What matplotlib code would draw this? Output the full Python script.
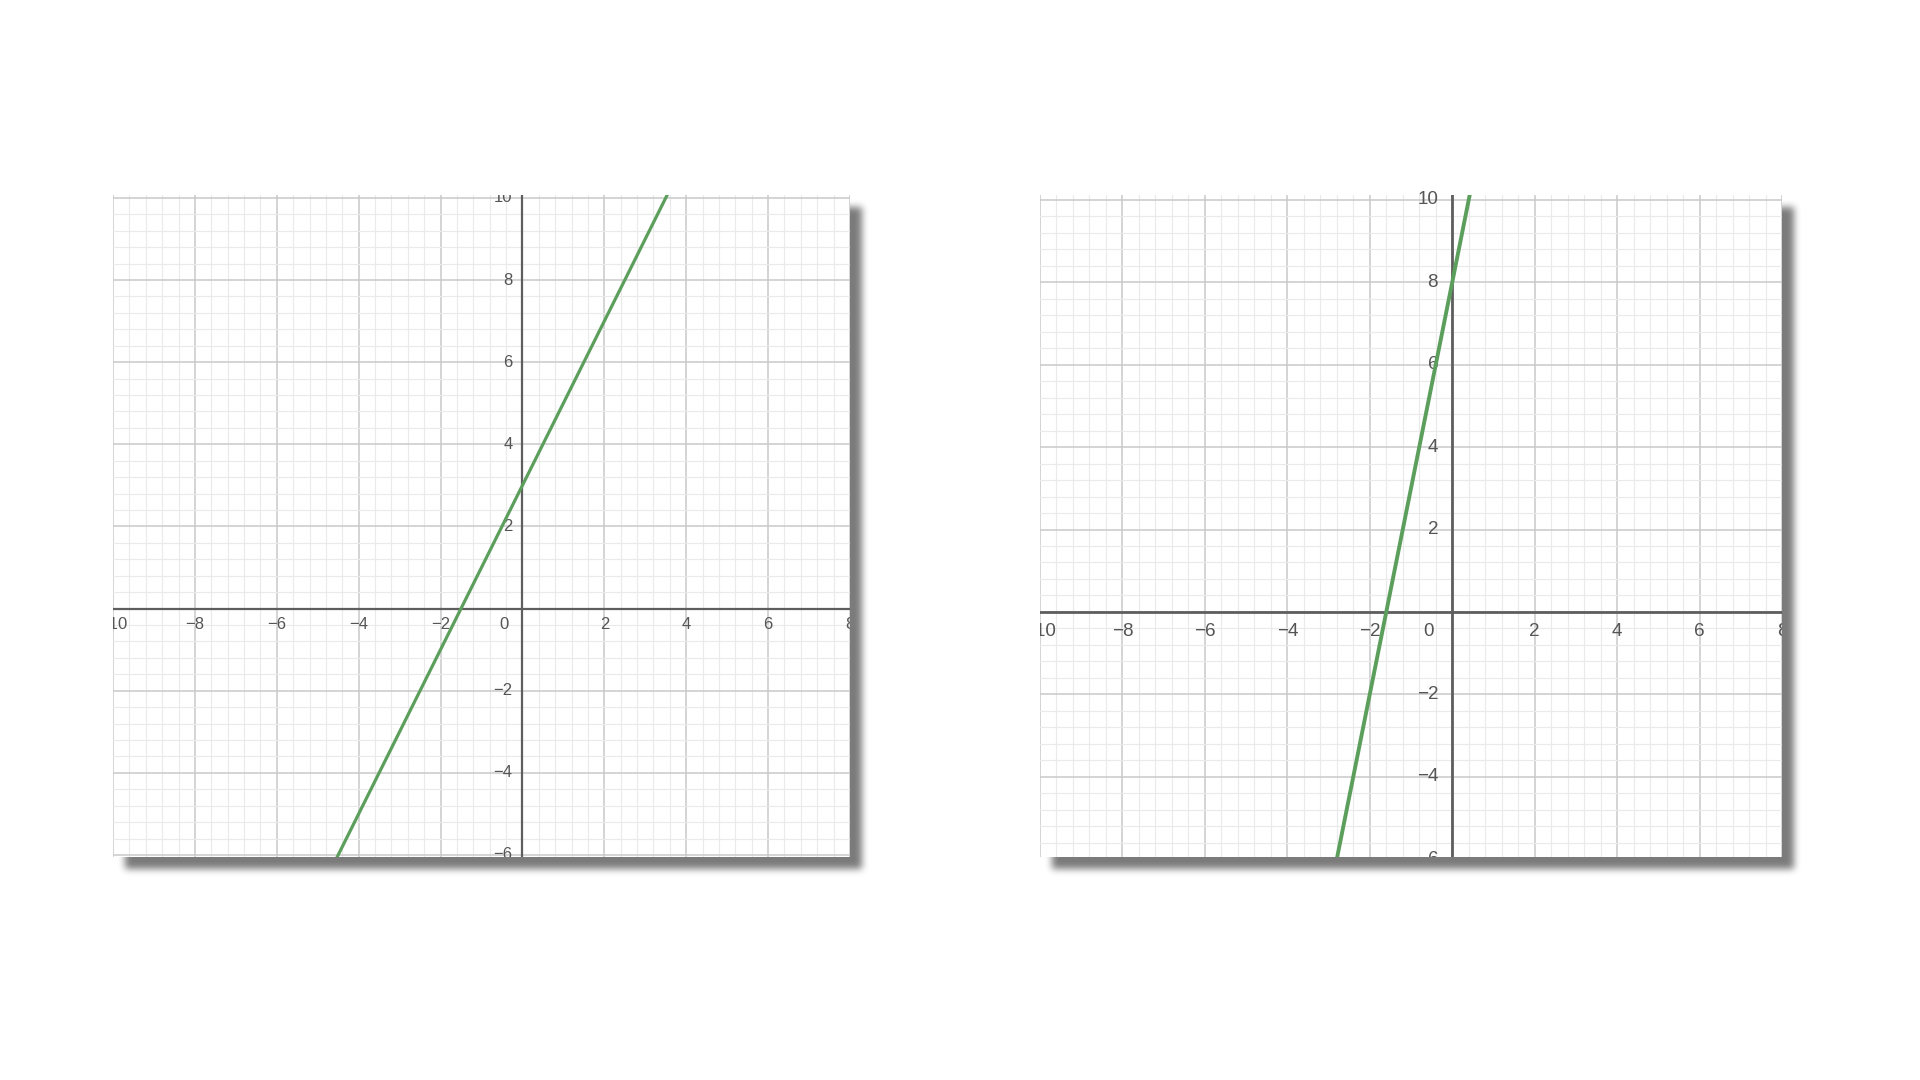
import numpy as np
import matplotlib
matplotlib.use("Agg")
import matplotlib.pyplot as plt
from matplotlib.ticker import MultipleLocator
from matplotlib.transforms import offset_copy

# two straight lines, y = slope * x + intercept
slopes = [2, 5]
intercepts = [3, 8]

x_ticks = [-10, -8, -6, -4, -2, 2, 4, 6, 8]
y_ticks = [-6, -4, -2, 2, 4, 6, 8, 10]

W, H = 1920, 1080
# plot boxes in pixels (left, top, right, bottom)
boxes = [(113, 195, 850, 857), (1040, 195, 1782, 857)]
ylims = [(-6.05, 10.07), (-5.95, 10.12)]
font_sizes = [12, 13.6]
line_widths = [2.3, 2.8]
axis_widths = [1.6, 2.0]
label_gap = [(10, 16), (14, 20)]
clip_top_label = [True, False]

plt.rcParams['font.family'] = ['Liberation Sans', 'DejaVu Sans']

fig = plt.figure(figsize=(19.2, 10.8), dpi=100)
fig.patch.set_facecolor('white')


def box_blur(a, r):
    # separable box blur using cumulative sums
    for axis in (0, 1):
        pad = [(0, 0), (0, 0)]
        pad[axis] = (r + 1, r)
        c = np.cumsum(np.pad(a, pad, mode='edge'), axis=axis)
        if axis == 0:
            a = (c[2 * r + 1:, :] - c[:-2 * r - 1, :]) / (2 * r + 1)
        else:
            a = (c[:, 2 * r + 1:] - c[:, :-2 * r - 1]) / (2 * r + 1)
    return a


# drop shadow behind both plots
mask = np.zeros((H, W))
off = 12
for (l, t, r, b) in boxes:
    mask[t + off:b + off, l + off:r + off] = 1.0
for _ in range(3):
    mask = box_blur(mask, 3)
shadow = np.zeros((H, W, 4))
shadow[..., 3] = mask * 0.52

bg = fig.add_axes([0, 0, 1, 1], zorder=0)
bg.imshow(shadow, extent=[0, W, H, 0], aspect='auto', interpolation='nearest')
bg.set_xlim(0, W)
bg.set_ylim(H, 0)
bg.axis('off')

for i, (l, t, r, b) in enumerate(boxes):
    ax = fig.add_axes([l / W, 1 - b / H, (r - l) / W, (b - t) / H], zorder=1)
    ax.set_facecolor('white')
    ax.set_xlim(-10, 8)
    ax.set_ylim(*ylims[i])
    for s in ax.spines.values():
        s.set_visible(False)
    ax.xaxis.set_major_locator(MultipleLocator(2))
    ax.yaxis.set_major_locator(MultipleLocator(2))
    ax.xaxis.set_minor_locator(MultipleLocator(0.4))
    ax.yaxis.set_minor_locator(MultipleLocator(0.4))
    ax.grid(which='minor', color='#eaeaea', lw=0.8, zorder=0)
    ax.grid(which='major', color='#c9c9c9', lw=1.1, zorder=0)
    ax.tick_params(which='both', length=0, labelbottom=False, labelleft=False)
    ax.set_axisbelow(True)

    ax.axhline(0, color='#5e5e5e', lw=axis_widths[i], zorder=2)
    ax.axvline(0, color='#5e5e5e', lw=axis_widths[i], zorder=2)

    gx, gy = label_gap[i]
    fs = font_sizes[i]
    below = offset_copy(ax.transData, fig=fig, x=0, y=-gy, units='dots')
    left = offset_copy(ax.transData, fig=fig, x=-gx, y=0, units='dots')
    corner = offset_copy(ax.transData, fig=fig, x=-gx - 4, y=-gy, units='dots')
    for v in x_ticks:
        ax.text(v, 0, '\u2212' + str(-v) if v < 0 else str(v), transform=below,
                ha='center', va='center', fontsize=fs, color='#555555',
                clip_on=True, zorder=3)
    for v in y_ticks:
        clip = clip_top_label[i] if v == y_ticks[-1] else True
        ax.text(0, v, '\u2212' + str(-v) if v < 0 else str(v), transform=left,
                ha='right', va='center', fontsize=fs, color='#555555',
                clip_on=clip, zorder=3)
    ax.text(0, 0, '0', transform=corner, ha='right', va='center',
            fontsize=fs, color='#555555', clip_on=True, zorder=3)

    xs = np.array([-10, 8])
    ax.plot(xs, slopes[i] * xs + intercepts[i], color='#5c9e5c',
            lw=line_widths[i], solid_capstyle='butt', zorder=4)

fig.savefig('out.png', dpi=100)
